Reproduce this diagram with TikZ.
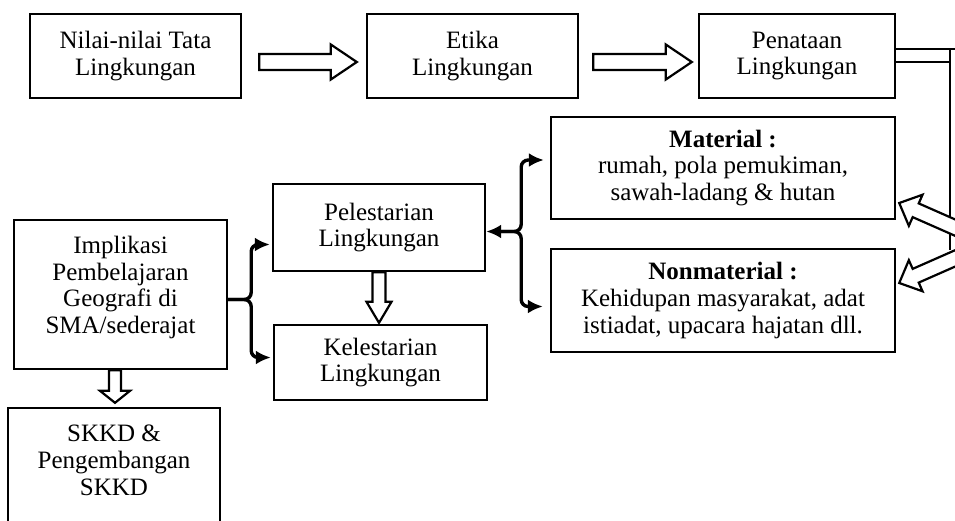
\documentclass[tikz,border=0pt]{standalone}
\usepackage{fontspec}
\setmainfont{Liberation Serif}
\usetikzlibrary{calc,arrows.meta}
\tikzset{
  box/.style={draw, line width=2.4pt, align=center, inner sep=0pt, font=\fontsize{25}{26.7}\selectfont},
  txt/.style={align=center, inner sep=0pt, font=\fontsize{25}{26.7}\selectfont},
  harrow/.style={draw, line width=2.2pt, fill=white, line join=miter},
  brace/.style={line width=3.4pt, rounded corners=7pt, -{Latex[length=15pt,width=14pt]}},
  plainline/.style={line width=2.2pt},
}
\newcommand\hollowarr[5]{%
  \path let \p1=(#1), \p2=(#2) in \pgfextra{%
    \pgfmathparse{atan2(\y2-\y1,\x2-\x1)}\xdef\harang{\pgfmathresult}%
    \pgfmathparse{veclen(\x2-\x1,\y2-\y1)}\xdef\harlen{\pgfmathresult}%
    \xdef\harx{\x1}\xdef\hary{\y1}};
  \draw[harrow, shift={(\harx,\hary)}, rotate=\harang]
    (0,-#3) -- (\harlen-#5,-#3) -- (\harlen-#5,-#4) -- (\harlen,0)
    -- (\harlen-#5,#4) -- (\harlen-#5,#3) -- (0,#3) -- cycle;
}
\begin{document}
\begin{tikzpicture}[x=1pt,y=-1pt]
\useasboundingbox (0,0) rectangle (955,520);
\clip (0,0) rectangle (955,520);
% boxes
\node[box, minimum width=211pt, minimum height=84pt] (b1) at (135.5,56) {Nilai-nilai Tata\\Lingkungan};
\node[box, minimum width=211pt, minimum height=84pt] (b2) at (472.5,56) {Etika\\Lingkungan};
\node[box, minimum width=196pt, minimum height=84pt] (b3) at (797,56) {Penataan\\Lingkungan};
\node[box, minimum width=344pt, minimum height=102pt] (mat) at (723,168) {\textbf{Material :}\\rumah, pola pemukiman,\\sawah-ladang \& hutan};
\node[box, minimum width=344pt, minimum height=103pt] (non) at (723,300.5) {\textbf{Nonmaterial :}\\Kehidupan masyarakat, adat\\istiadat, upacara hajatan dll.};
\node[box, minimum width=212pt, minimum height=87pt] (pel) at (379,227.5) {Pelestarian\\Lingkungan};
\node[box, minimum width=213pt, minimum height=75pt] (kel) at (380.5,362.5) {Kelestarian\\Lingkungan};
\node[box, minimum width=213pt, minimum height=149pt] (imp) at (120.5,294.5) {};
\node[txt, anchor=north] (impt) at ([yshift=-17pt]imp.north) {Implikasi\\Pembelajaran\\Geografi di\\SMA/sederajat};
\node[box, minimum width=212pt, minimum height=132pt] (skkd) at (114,474) {};
\node[txt, anchor=north] (skkdt) at ([yshift=-18pt]skkd.north) {SKKD \&\\Pengembangan\\SKKD};
% hollow arrows top row
\coordinate (a1s) at ([xshift=17pt,yshift=-6pt]b1.east);
\coordinate (a1e) at ([xshift=-9pt,yshift=-6pt]b2.west);
\coordinate (a2s) at ([xshift=14pt,yshift=-6pt]b2.east);
\coordinate (a2e) at ([xshift=-6pt,yshift=-6pt]b3.west);
\hollowarr{a1s}{a1e}{8}{17.5}{26}
\hollowarr{a2s}{a2e}{8}{17.5}{26}
% vertical hollow arrows
\coordinate (pks) at (pel.south);
\coordinate (pke) at ([yshift=1pt]pel.south |- kel.north);
\hollowarr{pks}{pke}{6.5}{12.5}{21}
\coordinate (iss) at ([xshift=-5.5pt]imp.south);
\coordinate (ise) at ([yshift=4pt]iss |- skkd.north);
\hollowarr{iss}{ise}{6}{15}{12}
% right-hand hollow connector from Penataan
\coordinate (pu) at ([yshift=7pt]b3.east);
\coordinate (pl) at ([yshift=-6pt]b3.east);
\coordinate (vt) at (950,49);
\coordinate (vb) at (950,250);
\draw[plainline] (pu) -- ++(80,0);
\draw[plainline] (pl) -- (pl -| vt);
\draw[plainline] (vt) -- (vb);
\coordinate (jn) at (990,243);
\coordinate (mtip) at ([xshift=3pt,yshift=-35pt]mat.east);
\coordinate (ntip) at ([xshift=3pt,yshift=17.5pt]non.east);
\hollowarr{jn}{mtip}{7.5}{17}{18}
\hollowarr{jn}{ntip}{7.5}{17}{18}
% left brace
\coordinate (lbt) at ([yshift=-5pt]imp.east);
\coordinate (lbu) at ([xshift=-2pt,yshift=-17pt]pel.west);
\coordinate (lbd) at ([xshift=-2pt,yshift=5pt]kel.west);
\draw[brace] (lbt) -- ++(23,0) |- (lbu);
\draw[brace] (lbt) -- ++(23,0) |- (lbd);
% right brace
\coordinate (rbt) at ([yshift=-4pt]pel.east);
\coordinate (rbm) at ([xshift=15pt]rbt);
\coordinate (rbu) at ([xshift=-6pt,yshift=8pt]mat.west);
\coordinate (rbd) at ([xshift=-7pt,yshift=-6pt]non.west);
\draw[brace, {Latex[length=15pt,width=14pt]}-{Latex[length=15pt,width=14pt]}] (rbt) -- ++(35,0) |- (rbu);
\draw[brace] (rbm) -- ++(20,0) |- (rbd);
\end{tikzpicture}
\end{document}
